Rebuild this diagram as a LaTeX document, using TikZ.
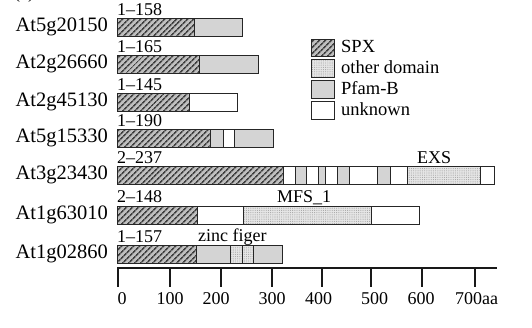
\documentclass[tikz,border=0pt]{standalone}
\usepackage{fontspec}
\setmainfont{Liberation Serif}
\usetikzlibrary{patterns.meta}

\begin{document}
\begin{tikzpicture}[x=1pt, y=-1pt,
    seg/.style={draw=black!85, line width=0.9pt},
    spx/.style={seg, preaction={fill=black!25}, pattern={Lines[angle=45, distance=4pt, line width=1.7pt]}, pattern color=black!75},
    other/.style={seg, preaction={fill=black!10}, pattern={Dots[distance=2.2pt, radius=0.55pt]}, pattern color=black!35},
    pfam/.style={seg, fill=black!17},
    unk/.style={seg, fill=white},
    gene/.style={anchor=east, inner sep=0pt, font=\fontsize{20.5}{20.5}\selectfont},
    rng/.style={anchor=base west, inner sep=0pt, font=\fontsize{18}{18}\selectfont},
    key/.style={anchor=west, inner sep=0pt, font=\fontsize{18.5}{18.5}\selectfont},
    num/.style={anchor=base, inner sep=0pt, font=\fontsize{18}{18}\selectfont}]
    \useasboundingbox (0,0) rectangle (532,327);
    \node[anchor=base west, inner sep=0pt, font=\fontsize{18}{18}\selectfont] (panel) at (14,-2) {(a)};
    % gene names and SPX ranges
    \node[gene] (g1) at (108,27) {At5g20150};
    \node[gene] (g2) at (108,64) {At2g26660};
    \node[gene] (g3) at (108,102) {At2g45130};
    \node[gene] (g4) at (108,138) {At5g15330};
    \node[gene] (g5) at (108,175) {At3g23430};
    \node[gene] (g6) at (108,215) {At1g63010};
    \node[gene] (g7) at (108,254) {At1g02860};
    \node[rng] (r1) at (117,15) {1--158};
    \node[rng] (r2) at (117,52) {1--165};
    \node[rng] (r3) at (117,90) {1--145};
    \node[rng] (r4) at (117,126) {1--190};
    \node[rng] (r5) at (117,163) {2--237};
    \node[rng] (r6) at (117,202) {2--148};
    \node[rng] (r7) at (117,242) {1--157};
    % domain bars
    \foreach \a/\b/\s in {117/194/spx, 194/242/pfam}
        \draw[\s] (\a,18) rectangle (\b,36);
    \foreach \a/\b/\s in {117/199/spx, 199/258/pfam}
        \draw[\s] (\a,55) rectangle (\b,73);
    \foreach \a/\b/\s in {117/189/spx, 189/237/unk}
        \draw[\s] (\a,93) rectangle (\b,111);
    \foreach \a/\b/\s in {117/210/spx, 210/223/pfam, 223/234/unk, 234/273/pfam}
        \draw[\s] (\a,129) rectangle (\b,147);
    \foreach \a/\b/\s in {117/283/spx, 283/295/unk, 295/306/pfam, 306/318/unk, 318/325/pfam, 325/337/unk,
        337/349/pfam, 349/377/unk, 377/390/pfam, 390/407/unk, 407/480/other, 480/494/unk}
        \draw[\s] (\a,166) rectangle (\b,184);
    \foreach \a/\b/\s in {117/197/spx, 197/243/unk, 243/371/other, 371/419/unk}
        \draw[\s] (\a,206) rectangle (\b,224);
    \foreach \a/\b/\s in {117/196/spx, 196/230/pfam, 230/242/other, 242/253/other, 253/282/pfam}
        \draw[\s] (\a,245) rectangle (\b,263);
    % domain names
    \node[rng] (exs) at (417,163) {EXS};
    \node[rng] (mfs) at (277,202) {MFS\_1};
    \node[rng] (zinc) at (198,241) {zinc figer};
    % legend
    \draw[spx] (311,39) rectangle (334,56);
    \draw[other] (311,59) rectangle (334,77);
    \draw[pfam] (311,80) rectangle (334,98);
    \draw[unk] (311,101) rectangle (334,119);
    \node[key] (kspx) at (341,46) {SPX};
    \node[key] (kother) at (341,67) {other domain};
    \node[key] (kpfam) at (341,88) {Pfam-B};
    \node[key] (kunk) at (341,109) {unknown};
    % scale
    \draw[line width=1.6pt, black!90] (117,268) -- (497,268);
    \foreach \t/\l/\v in {118/122/0, 170/170/100, 221/216/200, 272/272/300, 322/318.5/400, 371/374.5/500, 422/421/600} {
        \draw[line width=1.9pt, black!90] (\t,267) -- (\t,287);
        \node[num] (n\v) at (\l,304) {\v};
    }
    \draw[line width=1.9pt, black!90] (475,267) -- (475,287);
    \node[num, anchor=base west] (n700) at (455,304) {700aa};
\end{tikzpicture}
\end{document}
